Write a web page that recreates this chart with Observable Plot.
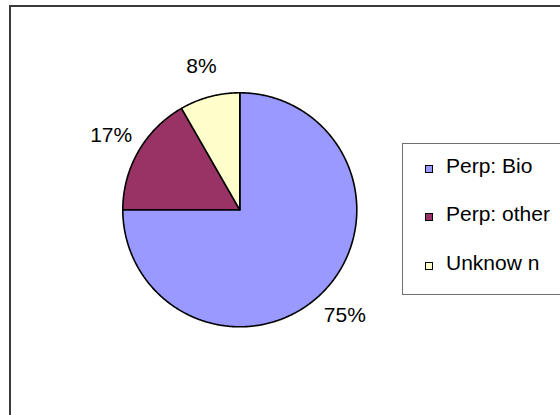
<!DOCTYPE html>
<html>
<head>
<meta charset="utf-8">
<script src="https://cdn.jsdelivr.net/npm/d3@7"></script>
<script src="https://cdn.jsdelivr.net/npm/@observablehq/plot@0.6"></script>
<style>
  html, body { margin: 0; padding: 0; background: #fff; }
  #wrap { position: relative; width: 560px; height: 415px; overflow: hidden; font-family: "Liberation Sans", Arial, sans-serif; }
  #frame { position: absolute; left: 9px; top: 5px; width: 700px; height: 600px; border: 2px solid #3a3a3a; box-sizing: border-box; }
  #legend { position: absolute; left: 402px; top: 143px; width: 300px; height: 152px; border: 1px solid #707070; box-sizing: border-box; background: #fff; }
  .item { position: absolute; left: 0; height: 21px; line-height: 21px; font-size: 21px; color: #000; white-space: pre; }
  .sw { position: absolute; left: 22px; top: 10px; width: 6px; height: 6px; border: 1px solid #000; }
  .lb { position: absolute; left: 43px; top: 0; }
  #chart { position: absolute; left: 0; top: 0; }
</style>
</head>
<body>
<div id="wrap">
  <div id="frame"></div>
  <div id="chart"></div>
  <div id="legend"></div>
</div>
<script>
// Data
const categories = ["Perp: Bio", "Perp: other", "Unknow n"];
const values = [75, 16.7, 8.3];
const labels = ["75%", "17%", "8%"];
const colors = ["#9999FF", "#993366", "#FFFFCC"];

// Build slice polygons in unit-circle coordinates from d3.pie angles
const arcs = d3.pie().sort(null).value(d => d)(values);
const slicePts = [];
arcs.forEach((a, i) => {
  const cat = categories[i];
  slicePts.push({cat, x: 0, y: 0});
  const n = Math.max(2, Math.ceil((a.endAngle - a.startAngle) / (Math.PI / 360)));
  for (let k = 0; k <= n; k++) {
    const t = a.startAngle + (a.endAngle - a.startAngle) * k / n;
    slicePts.push({cat, x: Math.sin(t), y: Math.cos(t)});
  }
  slicePts.push({cat, x: 0, y: 0});
});
const labelR = 1.27;
const labelPts = arcs.map((a, i) => {
  const m = (a.startAngle + a.endAngle) / 2;
  return {text: labels[i], x: labelR * Math.sin(m), y: labelR * Math.cos(m)};
});

const cx = 239.3, cy = 209.3, r = 117;
const plot = Plot.plot({
  width: 560,
  height: 415,
  margin: 0,
  style: {background: "transparent", fontFamily: "'Liberation Sans', Arial, sans-serif"},
  x: {domain: [-1, 1], range: [cx - r, cx + r], axis: null},
  y: {domain: [-1, 1], range: [cy + r, cy - r], axis: null},
  color: {domain: categories, range: colors},
  marks: [
    Plot.line(slicePts, {x: "x", y: "y", z: "cat", fill: "cat", stroke: "#000", strokeWidth: 1.6, strokeLinejoin: "round", curve: "linear"}),
    Plot.text(labelPts, {x: "x", y: "y", text: "text", fontSize: 21, fill: "#000", textAnchor: "middle", lineAnchor: "middle"})
  ]
});
document.getElementById("chart").appendChild(plot);

// Legend
const legend = document.getElementById("legend");
categories.forEach((c, i) => {
  const it = document.createElement("div");
  it.className = "item";
  it.style.top = (10.5 + i * 48.5) + "px";
  const sw = document.createElement("div");
  sw.className = "sw";
  sw.style.background = colors[i];
  const lb = document.createElement("div");
  lb.className = "lb";
  lb.textContent = c;
  it.appendChild(sw);
  it.appendChild(lb);
  legend.appendChild(it);
});
</script>
</body>
</html>
